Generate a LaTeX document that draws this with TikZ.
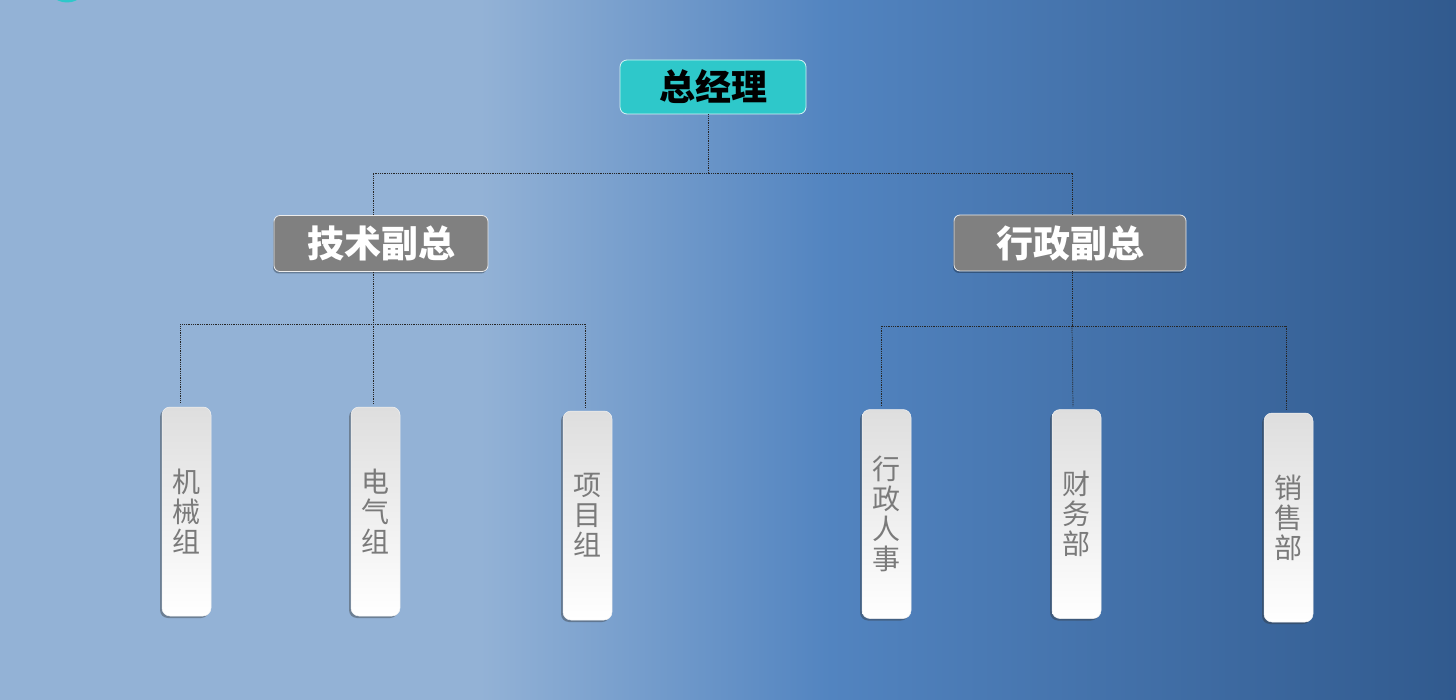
\documentclass[tikz,border=0pt]{standalone}
\usepackage{fontspec}
\newfontfamily\cjk{Noto Sans CJK SC}
\usetikzlibrary{shadows}
\definecolor{bgA}{RGB}{147,178,214}
\definecolor{bgB}{RGB}{82,132,192}
\definecolor{bgC}{RGB}{49,90,142}
\definecolor{gmfill}{RGB}{46,200,202}
\definecolor{boxgray}{RGB}{128,128,128}
\definecolor{leaftop}{RGB}{222,222,222}
\definecolor{leaftext}{RGB}{122,122,122}
\tikzset{
  gmbox/.style={draw=white!80!gmfill, line width=0.8pt, fill=gmfill, rounded corners=7pt,
    minimum width=186pt, minimum height=54pt, inner sep=0pt,
    font=\cjk\bfseries\fontsize{36}{36}\selectfont, text=black},
  vpbox/.style={draw=white!85!gray, line width=0.8pt, fill=boxgray, rounded corners=6pt,
    minimum height=56pt, inner sep=0pt,
    drop shadow={shadow xshift=-1pt, shadow yshift=-2pt, opacity=0.3, fill=black},
    font=\cjk\bfseries\fontsize{37}{37}\selectfont, text=white},
  leafbox/.style={draw=white!90!gray, line width=0.5pt, rounded corners=8pt,
    top color=leaftop, bottom color=white,
    minimum width=49pt, minimum height=209pt, inner sep=0pt,
    drop shadow={shadow xshift=-2pt, shadow yshift=-2pt, opacity=0.4, fill=black!80},
    font=\cjk\fontsize{28}{30}\selectfont, text=leaftext, align=center},
  conn/.style={draw=black!85, line width=0.7pt, dash pattern=on 1pt off 0.8pt}
}
\begin{document}
\begin{tikzpicture}[x=1pt,y=-1pt]
\useasboundingbox (0,0) rectangle (1456,700);
% background: horizontal gradient, light on the left, deep blue on the right
\fill[bgA] (0,0) rectangle (481,700);
\shade[left color=bgA, right color=bgB] (480,0) rectangle (831,700);
\shade[left color=bgB, right color=bgC] (830,0) rectangle (1456,700);
\begin{scope}
  \clip (0,0) rectangle (1456,700);
  \fill[gmfill] (67,-18.75) circle [radius=21.25pt];
\end{scope}

% boxes
\node[gmbox] (gm) at (713,87) {总经理};
\node[vpbox, minimum width=214pt] (tech) at (381,243.5) {技术副总};
\node[vpbox, minimum width=232pt] (admin) at (1070,243) {行政副总};

\node[leafbox] (l1) at (186.5,511.5) {机\\械\\组};
\node[leafbox] (l2) at (375.5,511.5) {电\\气\\组};
\node[leafbox] (l3) at (587.5,515.5) {项\\目\\组};
\node[leafbox] (r1) at (886.5,514) {行\\政\\人\\事};
\node[leafbox] (r2) at (1076.5,514) {财\\务\\部};
\node[leafbox] (r3) at (1288.5,517.5) {销\\售\\部};

% connectors
\draw[conn] ([xshift=-5pt]gm.south) -- ++(0,59) coordinate (b0);
\draw[conn] ([xshift=-8pt]tech.north) |- (b0) -| ([xshift=2pt]admin.north);

\draw[conn] ([xshift=-8pt]tech.south) -- ++(0,52) coordinate (b1);
\draw[conn] ([xshift=-6.5pt,yshift=4pt]l1.north) |- (b1) -| ([xshift=-2.5pt,yshift=3pt]l3.north);
\draw[conn] (b1) -- ([xshift=-2.5pt,yshift=3pt]l2.north);

\draw[conn] ([xshift=2pt]admin.south) -- ++(0,55) coordinate (b2);
\draw[conn] ([xshift=-5.5pt,yshift=3pt]r1.north) |- (b2) -| ([xshift=-2.5pt,yshift=3pt]r3.north);
\draw[conn] (b2) -- ([xshift=-3.5pt,yshift=3pt]r2.north);
\end{tikzpicture}
\end{document}
